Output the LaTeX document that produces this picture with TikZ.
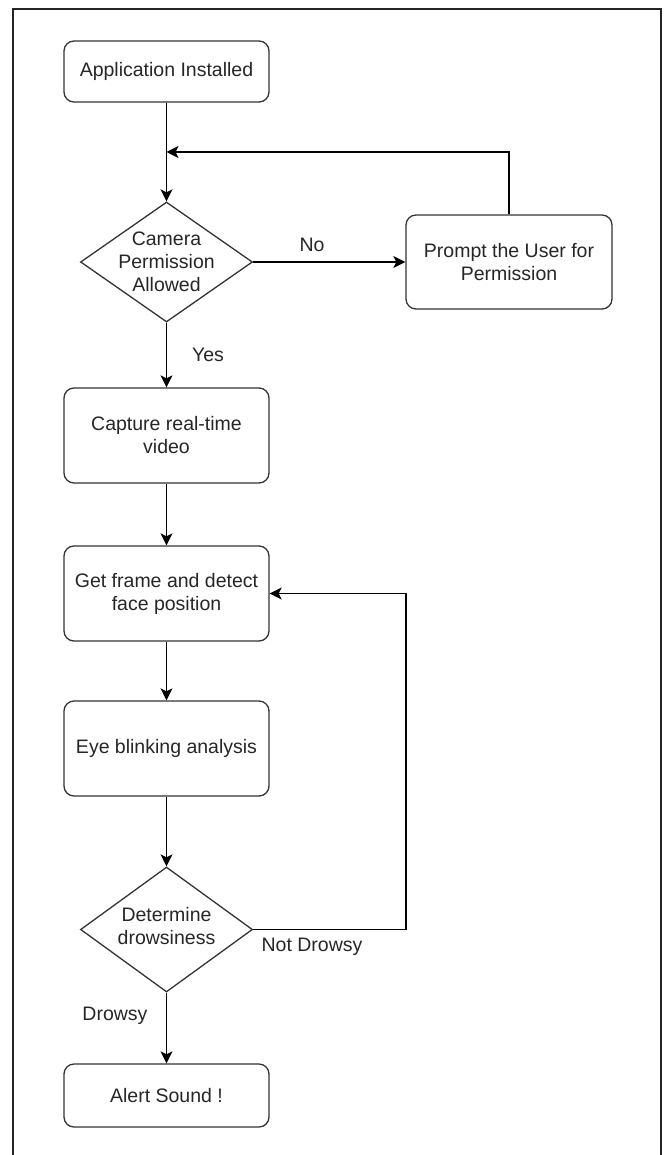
\documentclass[tikz,border=0pt]{standalone}
\usepackage{fontspec}
\setmainfont{Liberation Sans}
\usetikzlibrary{shapes.geometric,arrows.meta}
\begin{document}
\begin{tikzpicture}[x=1pt,y=-1pt,
  every node/.style={font=\fontsize{19.5}{23}\selectfont, text=black!85},
  box/.style={draw=black!80, line width=1.3pt, rounded corners=10pt, minimum width=205pt, inner sep=0pt, align=center},
  dia/.style={draw=black!80, line width=1.3pt, diamond, minimum width=172pt, minimum height=120pt, inner sep=0pt},
  txt/.style={align=center, inner sep=0pt},
  arr/.style={line width=1.3pt, draw=black, -{Stealth[length=12pt,width=12pt,inset=3pt]}},
  lbl/.style={inner sep=0pt}]
\useasboundingbox (0,0) rectangle (665,1155);
\draw[line width=1.5pt, black!85] (13,1155) -- (13,9) -- (661,9) -- (661,1155);

\node[box, minimum height=61pt] (app) at (166.5,71.5) {Application Installed};
\node[dia] (d1) at (166.5,262) {};
\node[txt] (d1t) at (166.5,262) {Camera\\Permission\\Allowed};
\node[box, minimum width=206pt, minimum height=94pt] (prompt) at (509,262) {Prompt the User for\\Permission};
\node[box, minimum height=95pt] (cap) at (166.5,435.5) {Capture real-time\\video};
\node[box, minimum height=95pt] (get) at (166.5,593.5) {Get frame and detect\\face position};
\node[box, minimum height=95pt] (eye) at (166.5,748.5) {Eye blinking analysis};
\node[dia, minimum height=125pt] (d2) at (166.5,929.5) {};
\node[txt] (d2t) at (166.5,926) {Determine\\drowsiness};
\node[box, minimum height=63pt] (alert) at (166.5,1095.5) {Alert Sound !};

\coordinate (j1) at (166.5,152);
\coordinate (k2) at (406,929.5);
\coordinate (k3) at (406,593.5);

\draw[arr] (app) -- (d1);
\draw[arr] (d1) -- (prompt);
\node[lbl] (no) at (312,245) {No};
\draw[arr] (prompt.north) |- (j1);
\draw[arr] (d1) -- (cap);
\node[lbl] (yes) at (208,355) {Yes};
\draw[arr] (cap) -- (get);
\draw[arr] (get) -- (eye);
\draw[arr] (eye) -- (d2);
\draw[arr] (d2.east) -- (k2) -- (k3) -- (get.east);
\node[lbl] (nd) at (312,947) {Not Drowsy};
\draw[arr] (d2) -- (alert);
\node[lbl] (dr) at (115,1016) {Drowsy};
\end{tikzpicture}
\end{document}
